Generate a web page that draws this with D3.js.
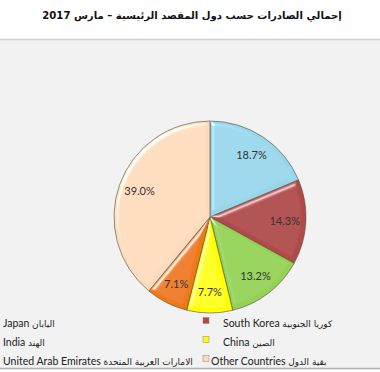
<!DOCTYPE html>
<html><head><meta charset="utf-8">
<script src="https://cdn.jsdelivr.net/npm/d3@7"></script>
<style>body{margin:0;background:#fff}svg{display:block}</style>
</head><body>
<script>
const categories = ["Japan", "South Korea", "India", "China", "United Arab Emirates", "Other Countries"];
const arabicNames = ["اليابان", "كوريا الجنوبية", "الهند", "الصين", "الامارات العربية المتحدة", "بقية الدول"];
const values = [18.7, 14.3, 13.2, 7.7, 7.1, 39.0];
const colors = ["#9ad6ea", "#b04a48", "#94d255", "#ffff00", "#ee7a16", "#fcdbbd"];
const title = "إجمالي الصادرات حسب دول المقصد الرئيسية – مارس 2017";

const W = 380, H = 372;
const svg = d3.select("body").append("svg").attr("width", W).attr("height", H);
svg.append("rect").attr("width", W).attr("height", H).attr("fill", "#fff");
svg.append("rect").attr("x", 0).attr("y", 40).attr("width", W).attr("height", 328).attr("fill", "#f2f2f2");
svg.append("line").attr("x1", 0).attr("x2", W).attr("y1", 39.5).attr("y2", 39.5).attr("stroke", "#d0d0d0").attr("stroke-width", 1.5);
svg.append("line").attr("x1", 0).attr("x2", W).attr("y1", 368.5).attr("y2", 368.5).attr("stroke", "#b0b0b0").attr("stroke-width", 1.5);

svg.append("text").attr("x", 192).attr("y", 19).attr("text-anchor", "middle")
  .attr("font-family", "DejaVu Sans, sans-serif").attr("font-weight", "bold")
  .attr("font-size", 10.1).attr("fill", "#111").text(title);

const defs = svg.append("defs");
const f = defs.append("filter").attr("id", "bevel").attr("x", "-10%").attr("y", "-10%").attr("width", "120%").attr("height", "120%");
f.append("feGaussianBlur").attr("in", "SourceAlpha").attr("stdDeviation", 2).attr("result", "blur");
f.append("feSpecularLighting").attr("in", "blur").attr("surfaceScale", 3).attr("specularConstant", 0.8)
  .attr("specularExponent", 35).attr("lighting-color", "#ffffff").attr("result", "spec")
  .append("feDistantLight").attr("azimuth", 225).attr("elevation", 40);
f.append("feComposite").attr("in", "spec").attr("in2", "SourceAlpha").attr("operator", "in").attr("result", "specIn");
f.append("feComposite").attr("in", "SourceGraphic").attr("in2", "specIn").attr("operator", "arithmetic")
  .attr("k1", 0).attr("k2", 1).attr("k3", 1).attr("k4", 0);

const cx = 210, cy = 217, r = 96;
const pie = d3.pie().sort(null).value(d => d)(values);
const arc = d3.arc().innerRadius(0).outerRadius(r);
const labelArc = d3.arc().innerRadius(r * 0.78).outerRadius(r * 0.78);
const g = svg.append("g").attr("transform", `translate(${cx},${cy})`);
g.selectAll("path.s").data(pie).join("path").attr("class", "s")
  .attr("d", arc).attr("fill", (d, i) => colors[i])
  .attr("stroke", "#5a4a3a").attr("stroke-opacity", 0.6).attr("stroke-width", 1)
  .attr("filter", "url(#bevel)");
g.selectAll("text").data(pie).join("text")
  .attr("transform", d => `translate(${labelArc.centroid(d)})`)
  .attr("text-anchor", "middle").attr("dy", "0.35em")
  .attr("font-family", "Lato, Liberation Sans, sans-serif").attr("font-size", 11).attr("fill", "#333")
  .text(d => d.data.toFixed(1) + "%");

const leg = svg.append("g").attr("font-family", "Lato, DejaVu Sans, sans-serif").attr("fill", "#222");
const rowsY = [321, 340, 359];
categories.forEach((c, i) => {
  const col = i % 2, row = Math.floor(i / 2);
  const mx = col === 0 ? -12 : 203;
  const tx = col === 0 ? 3 : (i === 5 ? 211 : 223);
  leg.append("rect").attr("x", mx).attr("y", rowsY[row] - 3.5).attr("width", 6).attr("height", 6)
    .attr("fill", colors[i]).attr("stroke", "#888").attr("stroke-width", 0.5);
  const t = leg.append("text").attr("x", tx).attr("y", rowsY[row]).attr("dy", "0.35em");
  t.append("tspan").attr("font-size", 10.5).text(c + " ");
  t.append("tspan").attr("font-size", 9).attr("font-family", "DejaVu Sans, sans-serif").text(" " + arabicNames[i]);
});
</script>
</body></html>
